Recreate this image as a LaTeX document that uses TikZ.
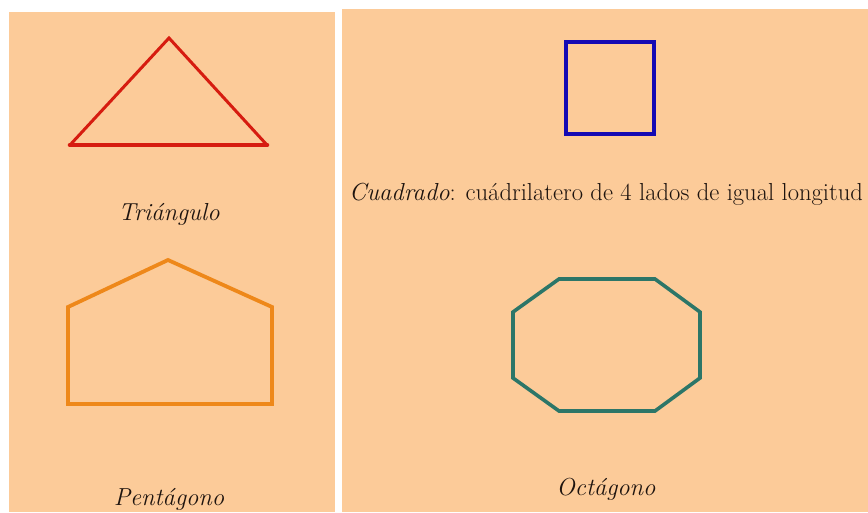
\documentclass[tikz,border=0pt]{standalone}
\definecolor{peach}{RGB}{252,203,153}
\definecolor{tri}{RGB}{214,28,16}
\definecolor{pent}{RGB}{238,136,26}
\definecolor{sq}{RGB}{20,10,180}
\definecolor{oct}{RGB}{44,118,104}
\definecolor{ink}{RGB}{30,20,15}
\begin{document}
\begin{tikzpicture}[x=1pt,y=-1pt,
  lbl/.style={font=\fontsize{24.6}{29}\selectfont, text=ink, inner sep=0pt, anchor=base},
  shapeline/.style={line join=miter}]
\useasboundingbox (0,0) rectangle (868,512);
\fill[white] (0,0) rectangle (868,512);
\fill[peach] (9,12) rectangle (335,512);
\fill[peach] (342,9) rectangle (868,512);
% triangle
\draw[shapeline, tri, line width=3pt] (70,145) -- (169,38) -- (267,145);
\draw[tri, line width=4.6pt, line cap=round] (70,145) -- (267,145);
\node[lbl] (ttri) at (169,220) {\textit{Triángulo}};
% pentagon
\draw[shapeline, pent, line width=3.8pt] (68,404) -- (68,307) -- (168,260) -- (272,307) -- (272,404) -- cycle;
\node[lbl] (tpent) at (169,505) {\textit{Pentágono}};
% square
\draw[shapeline, sq, line width=4.2pt] (566,42) rectangle (654,134);
\node[lbl] (tsq) at (606,200) {\textit{Cuadrado}: cuádrilatero de 4 lados de igual longitud};
% octagon
\draw[shapeline, oct, line width=3.6pt] (559,279) -- (655,279) -- (700,312) -- (700,378) -- (655,411) -- (559,411) -- (513,378) -- (513,312) -- cycle;
\node[lbl] (toct) at (606,495) {\textit{Octágono}};
\end{tikzpicture}
\end{document}
